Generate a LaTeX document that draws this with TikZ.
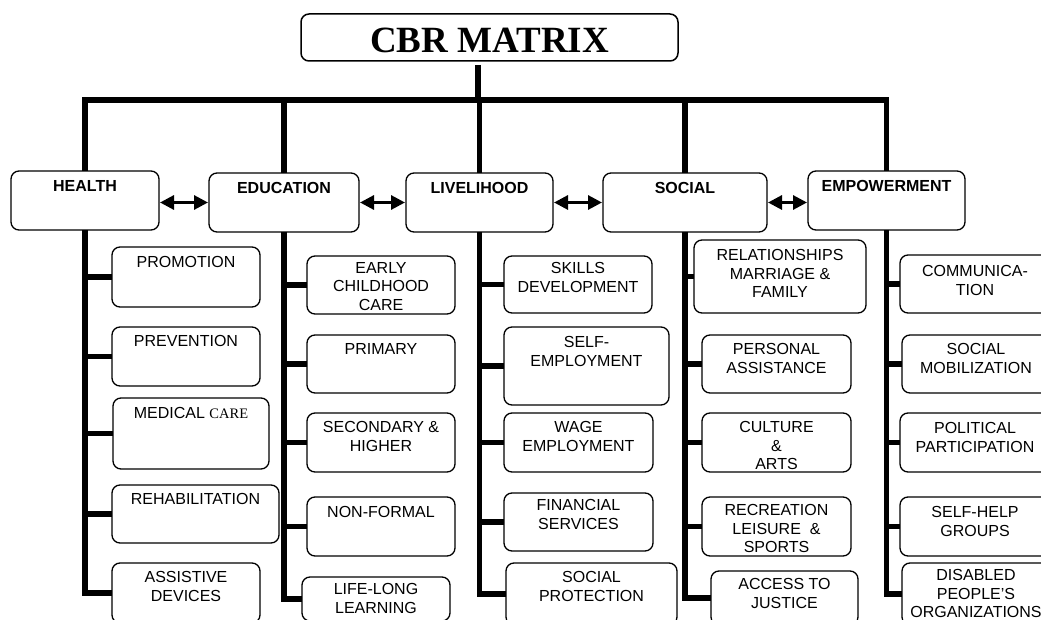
\documentclass[tikz,border=0pt]{standalone}
\usepackage{fontspec}
\setmainfont{Liberation Sans}
\newfontfamily\serifx{Liberation Serif}
\usetikzlibrary{arrows.meta}
\tikzset{
  box/.style={draw, line width=1.3pt, rounded corners=8pt, inner sep=0pt, outer sep=0pt, anchor=north west},
  lbl/.style={inner sep=0pt, align=center, anchor=north, font=\fontsize{16}{18.7}\selectfont},
  catlbl/.style={lbl, font=\fontsize{16}{18.7}\selectfont\bfseries},
  conn/.style={line width=5.8pt, line join=miter},
  dbl/.style={line width=3pt, {Triangle[length=14pt,width=14pt]}-{Triangle[length=14pt,width=14pt]}, shorten <=1pt, shorten >=1pt},
}
\newcommand\cbox[7]{%
  \node[box, minimum width={#4-#2}, minimum height={#5-#3}] (#1) at (#2,#3) {};
  \node[lbl] (#1-t) at ([yshift=-#6pt]#1.north) {#7};}
\newcommand\catbox[6]{%
  \node[box, minimum width={#4-#2}, minimum height={#5-#3}] (#1) at (#2,#3) {};
  \node[catlbl] (#1-t) at ([yshift=-9pt]#1.north) {#6};}
\begin{document}
\begin{tikzpicture}[x=1pt, y=-1pt]
\useasboundingbox (0,0) rectangle (1041,620);
\clip (0,0) rectangle (1041,620);

% title
\node[box, line width=1.5pt, minimum width=377, minimum height=47] (title) at (301,14) {};
\node[anchor=base, inner sep=0pt, font=\serifx\bfseries\fontsize{37}{40}\selectfont] (title-t) at ([yshift=-15.5pt]title.center) {CBR MATRIX};

% categories
\catbox{health}{11}{171}{159}{230}{HEALTH}
\catbox{education}{209}{173}{359}{232}{EDUCATION}
\catbox{livelihood}{406}{173}{553}{232}{LIVELIHOOD}
\catbox{social}{603}{173}{767}{232}{SOCIAL}
\catbox{empower}{808}{171}{965}{230}{EMPOWERMENT}

% trunk and bar
\coordinate (tr) at (478,65);
\coordinate (barL) at (85,100);
\draw[conn] (tr) -- (tr |- barL);
\draw[conn] (health.north) -- (health.north |- barL) -- (empower.north |- barL) -- (empower.north);
\draw[conn] (education.north) -- (education.north |- barL);
\draw[conn] (livelihood.north) -- (livelihood.north |- barL);
\draw[conn] (social.north) -- (social.north |- barL);

% double arrows
\draw[dbl] (health.east |- education.west) -- (education.west);
\draw[dbl] (education.east) -- (livelihood.west);
\draw[dbl] (livelihood.east) -- (social.west);
\draw[dbl] (social.east) -- (empower.west |- social.east);

% health children
\cbox{h1}{112}{247}{260}{307}{9}{PROMOTION}
\cbox{h2}{112}{327}{260}{386}{8}{PREVENTION}
\cbox{h3}{113}{398}{269}{469}{9}{MEDICAL {\serifx\fontsize{14.5}{16}\selectfont CARE}}
\cbox{h4}{112}{485}{279}{543}{8}{REHABILITATION}
\cbox{h5}{112}{563}{260}{623}{8}{ASSISTIVE\\DEVICES}

% education children
\cbox{e1}{307}{256}{455}{314}{6}{EARLY\\CHILDHOOD\\CARE}
\cbox{e2}{307}{335}{455}{393}{8}{PRIMARY}
\cbox{e3}{307}{413}{455}{472}{8}{SECONDARY \&\\HIGHER}
\cbox{e4}{307}{497}{455}{556}{9}{NON-FORMAL}
\cbox{e5}{302}{577}{450}{621}{6}{LIFE-LONG\\LEARNING}

% livelihood children
\cbox{l1}{504}{256}{652}{313}{6}{SKILLS\\DEVELOPMENT}
\cbox{l2}{504}{327}{669}{405}{9}{SELF-\\EMPLOYMENT}
\cbox{l3}{504}{413}{653}{472}{8}{WAGE\\EMPLOYMENT}
\cbox{l4}{504}{493}{653}{551}{6}{FINANCIAL\\SERVICES}
\cbox{l5}{506}{563}{677}{625}{8}{SOCIAL\\PROTECTION}

% social children
\cbox{s1}{694}{240}{866}{313}{9}{RELATIONSHIPS\\MARRIAGE \&\\FAMILY}
\cbox{s2}{702}{335}{851}{393}{8}{PERSONAL\\ASSISTANCE}
\cbox{s3}{702}{413}{851}{472}{8}{CULTURE\\\&\\ARTS}
\cbox{s4}{702}{497}{851}{556}{7}{RECREATION\\LEISURE\ \ \&\\SPORTS}
\cbox{s5}{711}{571}{858}{625}{7}{ACCESS TO\\JUSTICE}

% empowerment children
\cbox{p1}{900}{255}{1050}{313}{10}{COMMUNICA-\\TION}
\cbox{p2}{902}{335}{1050}{393}{8}{SOCIAL\\MOBILIZATION}
\cbox{p3}{900}{413}{1050}{472}{9}{POLITICAL\\PARTICIPATION}
\cbox{p4}{900}{497}{1050}{556}{9}{SELF-HELP\\GROUPS}
\cbox{p5}{902}{563}{1050}{625}{6}{DISABLED\\PEOPLE'S\\ORGANIZATIONS}

% spines and branches
\foreach \c/\k in {health/h, education/e, livelihood/l, social/s, empower/p}{
  \draw[conn] (\c.south) -- (\c.south |- \k5.west) -- (\k5.west);
  \foreach \i in {1,2,3,4}{
    \draw[conn] (\c.south |- \k\i.west) -- (\k\i.west);
  }
}
\end{tikzpicture}
\end{document}
